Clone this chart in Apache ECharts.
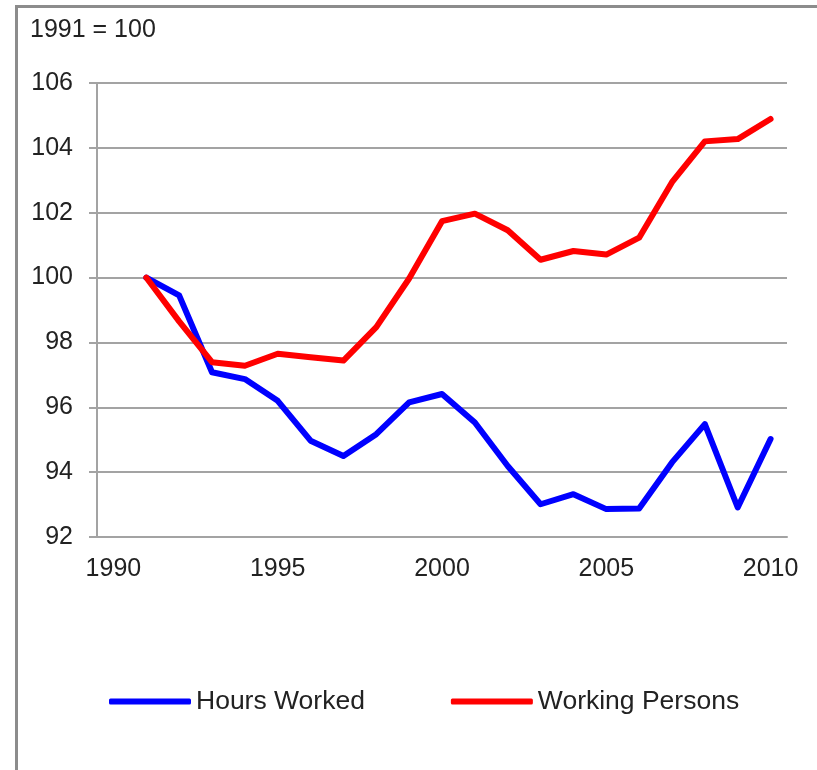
<!DOCTYPE html>
<html>
<head>
<meta charset="utf-8">
<script src="https://cdn.jsdelivr.net/npm/echarts@6/dist/echarts.min.js"></script>
<style>
  html, body { margin: 0; padding: 0; background: #fff; }
  #chart { width: 817px; height: 770px; }
</style>
</head>
<body>
<div id="chart"></div>
<script>
// years on the category axis (1990 has no value)
const years = ["1990", "1991", "1992", "1993", "1994", "1995", "1996", "1997", "1998", "1999", "2000",
  "2001", "2002", "2003", "2004", "2005", "2006", "2007", "2008", "2009", "2010"];
const hoursWorked = [null, 100, 99.45, 97.08, 96.87, 96.2, 94.97, 94.5, 95.17, 96.15, 96.41,
  95.53, 94.19, 93.01, 93.32, 92.86, 92.88, 94.3, 95.48, 92.91, 95.02];
const workingPersons = [null, 100, 98.65, 97.39, 97.28, 97.65, 97.54, 97.44, 98.47, 99.97, 101.74,
  101.97, 101.46, 100.55, 100.82, 100.71, 101.23, 102.94, 104.2, 104.27, 104.89];
const baseLabel = "1991 = 100";

const font = "Liberation Sans, Arial, sans-serif";
const gray = "#a3a3a3";

let myChart = echarts.init(document.getElementById("chart"));
myChart.setOption({
  animation: false,
  backgroundColor: "#fff",
  graphic: [
    {
      type: "rect",
      shape: { x: 16.5, y: 6.5, width: 830, height: 800 },
      style: { fill: "none", stroke: "#8c8c8c", lineWidth: 3 },
      z: 0
    },
    {
      type: "text",
      left: 30,
      top: 18,
      style: { text: baseLabel, font: "25px " + font, fill: "#222" }
    }
  ],
  grid: { left: 97, right: 30, top: 83, bottom: 233 },
  legend: {
    left: 104,
    top: 683,
    itemWidth: 82,
    itemHeight: 6,
    itemGap: 86,
    icon: "roundRect",
    textStyle: { fontFamily: font, fontSize: 26.5, color: "#222", padding: [0, 0, 0, 0] },
    data: ["Hours Worked", "Working Persons"]
  },
  xAxis: {
    type: "category",
    data: years,
    boundaryGap: true,
    axisLine: { lineStyle: { color: gray, width: 2 } },
    axisTick: { interval: 0, length: 8, lineStyle: { color: gray, width: 2 } },
    axisLabel: { interval: 4, margin: 20, fontFamily: font, fontSize: 25, color: "#222" },
    splitLine: { show: false }
  },
  yAxis: {
    type: "value",
    min: 92,
    max: 106,
    interval: 2,
    axisLine: { show: true, lineStyle: { color: gray, width: 2 } },
    axisTick: { show: true, length: 8, lineStyle: { color: gray, width: 2 } },
    axisLabel: { margin: 24, fontFamily: font, fontSize: 25, color: "#222" },
    splitLine: { lineStyle: { color: gray, width: 2 } }
  },
  series: [
    {
      name: "Hours Worked",
      type: "line",
      data: hoursWorked,
      showSymbol: false,
      symbol: "none",
      color: "#0000ff",
      lineStyle: { width: 6, color: "#0000ff", join: "round", cap: "round" }
    },
    {
      name: "Working Persons",
      type: "line",
      data: workingPersons,
      showSymbol: false,
      symbol: "none",
      color: "#ff0000",
      lineStyle: { width: 6, color: "#ff0000", join: "round", cap: "round" }
    }
  ]
});
</script>
</body>
</html>
